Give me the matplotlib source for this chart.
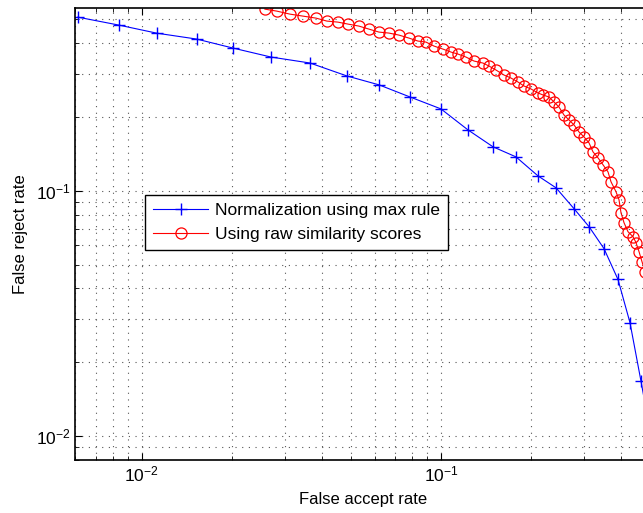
import matplotlib
matplotlib.use('Agg')
import matplotlib.pyplot as plt
from matplotlib.ticker import LogLocator, NullFormatter

plt.rcParams['font.family'] = ['Liberation Sans', 'DejaVu Sans']

# normalization using max rule (blue, +)
far_max = [0.00611, 0.00838, 0.01122, 0.01527, 0.02015, 0.0270, 0.0365, 0.0485,
           0.0621, 0.0788, 0.100, 0.1231, 0.1493, 0.1782, 0.211, 0.2425,
           0.2786, 0.3127, 0.3509, 0.3908, 0.4286, 0.4665, 0.50]
frr_max = [0.5096, 0.473, 0.4385, 0.4148, 0.3814, 0.3506, 0.3314, 0.2935,
           0.270, 0.241, 0.2155, 0.177, 0.151, 0.1374, 0.115, 0.1028,
           0.0845, 0.0714, 0.0581, 0.0435, 0.0290, 0.01675, 0.0105]

# raw similarity scores (red, o)
far_raw = [0.02579, 0.02828, 0.03126, 0.03456, 0.03820, 0.04157, 0.04524, 0.04887,
           0.05318, 0.05743, 0.06203, 0.06700, 0.07236, 0.07817, 0.08378, 0.08910,
           0.09475, 0.1015, 0.1080, 0.1140, 0.1212, 0.1290, 0.1382, 0.1447,
           0.1527, 0.1625, 0.1714, 0.1809, 0.1895, 0.2000, 0.2110, 0.2193,
           0.2297, 0.2387, 0.2481, 0.2578, 0.2680, 0.2785, 0.2893, 0.3007,
           0.3126, 0.3224, 0.3350, 0.3482, 0.3618, 0.3703, 0.3848, 0.3938,
           0.3999, 0.4093, 0.4221, 0.4386, 0.4489, 0.4594, 0.4701, 0.4811]
frr_raw = [0.5494, 0.5392, 0.5243, 0.5146, 0.5051, 0.4911, 0.4864, 0.4775,
           0.4686, 0.4556, 0.4430, 0.4389, 0.4307, 0.4188, 0.4072, 0.4034,
           0.3886, 0.3778, 0.3673, 0.3605, 0.3505, 0.3376, 0.3313, 0.3222,
           0.3104, 0.2961, 0.2879, 0.2774, 0.2672, 0.2598, 0.2503, 0.2456,
           0.2410, 0.2300, 0.2194, 0.2036, 0.1943, 0.1855, 0.1737, 0.1658,
           0.1567, 0.1440, 0.1362, 0.1276, 0.1194, 0.1088, 0.0991, 0.0919,
           0.0814, 0.0741, 0.0681, 0.0650, 0.0615, 0.0565, 0.0514, 0.0468]

fig = plt.figure(figsize=(6.43, 5.13), dpi=100)
ax = fig.add_axes([0.1174, 0.1033, 0.8935, 0.881])

ax.loglog(far_max, frr_max, color='blue', marker='+', markersize=8, markeredgewidth=1,
          linewidth=0.8, label='Normalization using max rule')
ax.loglog(far_raw, frr_raw, color='red', marker='o', markersize=8, markerfacecolor='none',
          markeredgewidth=0.9, linewidth=0.8, label='Using raw similarity scores')

ax.set_xlim(0.006, 0.5)
ax.set_ylim(0.008, 0.555)

ax.xaxis.set_major_locator(LogLocator(base=10, numticks=10))
ax.yaxis.set_major_locator(LogLocator(base=10, numticks=10))
ax.xaxis.set_minor_locator(LogLocator(base=10, subs=range(2, 10), numticks=20))
ax.yaxis.set_minor_locator(LogLocator(base=10, subs=range(2, 10), numticks=20))
ax.xaxis.set_minor_formatter(NullFormatter())
ax.yaxis.set_minor_formatter(NullFormatter())

ax.grid(True, which='both', linestyle=(0, (1, 5)), color='#555555', linewidth=0.8)
ax.tick_params(which='both', direction='in', top=True, right=True, labelsize=12.5)
ax.tick_params(which='major', length=5)
ax.tick_params(which='minor', length=3)
for s in ax.spines.values():
    s.set_linewidth(1.2)

ax.set_xlabel('False accept rate', fontsize=12, labelpad=5)
ax.set_ylabel('False reject rate', fontsize=12, labelpad=6)

leg = ax.legend(loc='upper left', bbox_to_anchor=(0.121, 0.586), borderaxespad=0,
                fontsize=12.5, fancybox=False, framealpha=1, edgecolor='black',
                handlelength=3.2, borderpad=0.45, labelspacing=0.5, handletextpad=0.4)
leg.get_frame().set_linewidth(1.0)

fig.savefig('out.png', dpi=100)
